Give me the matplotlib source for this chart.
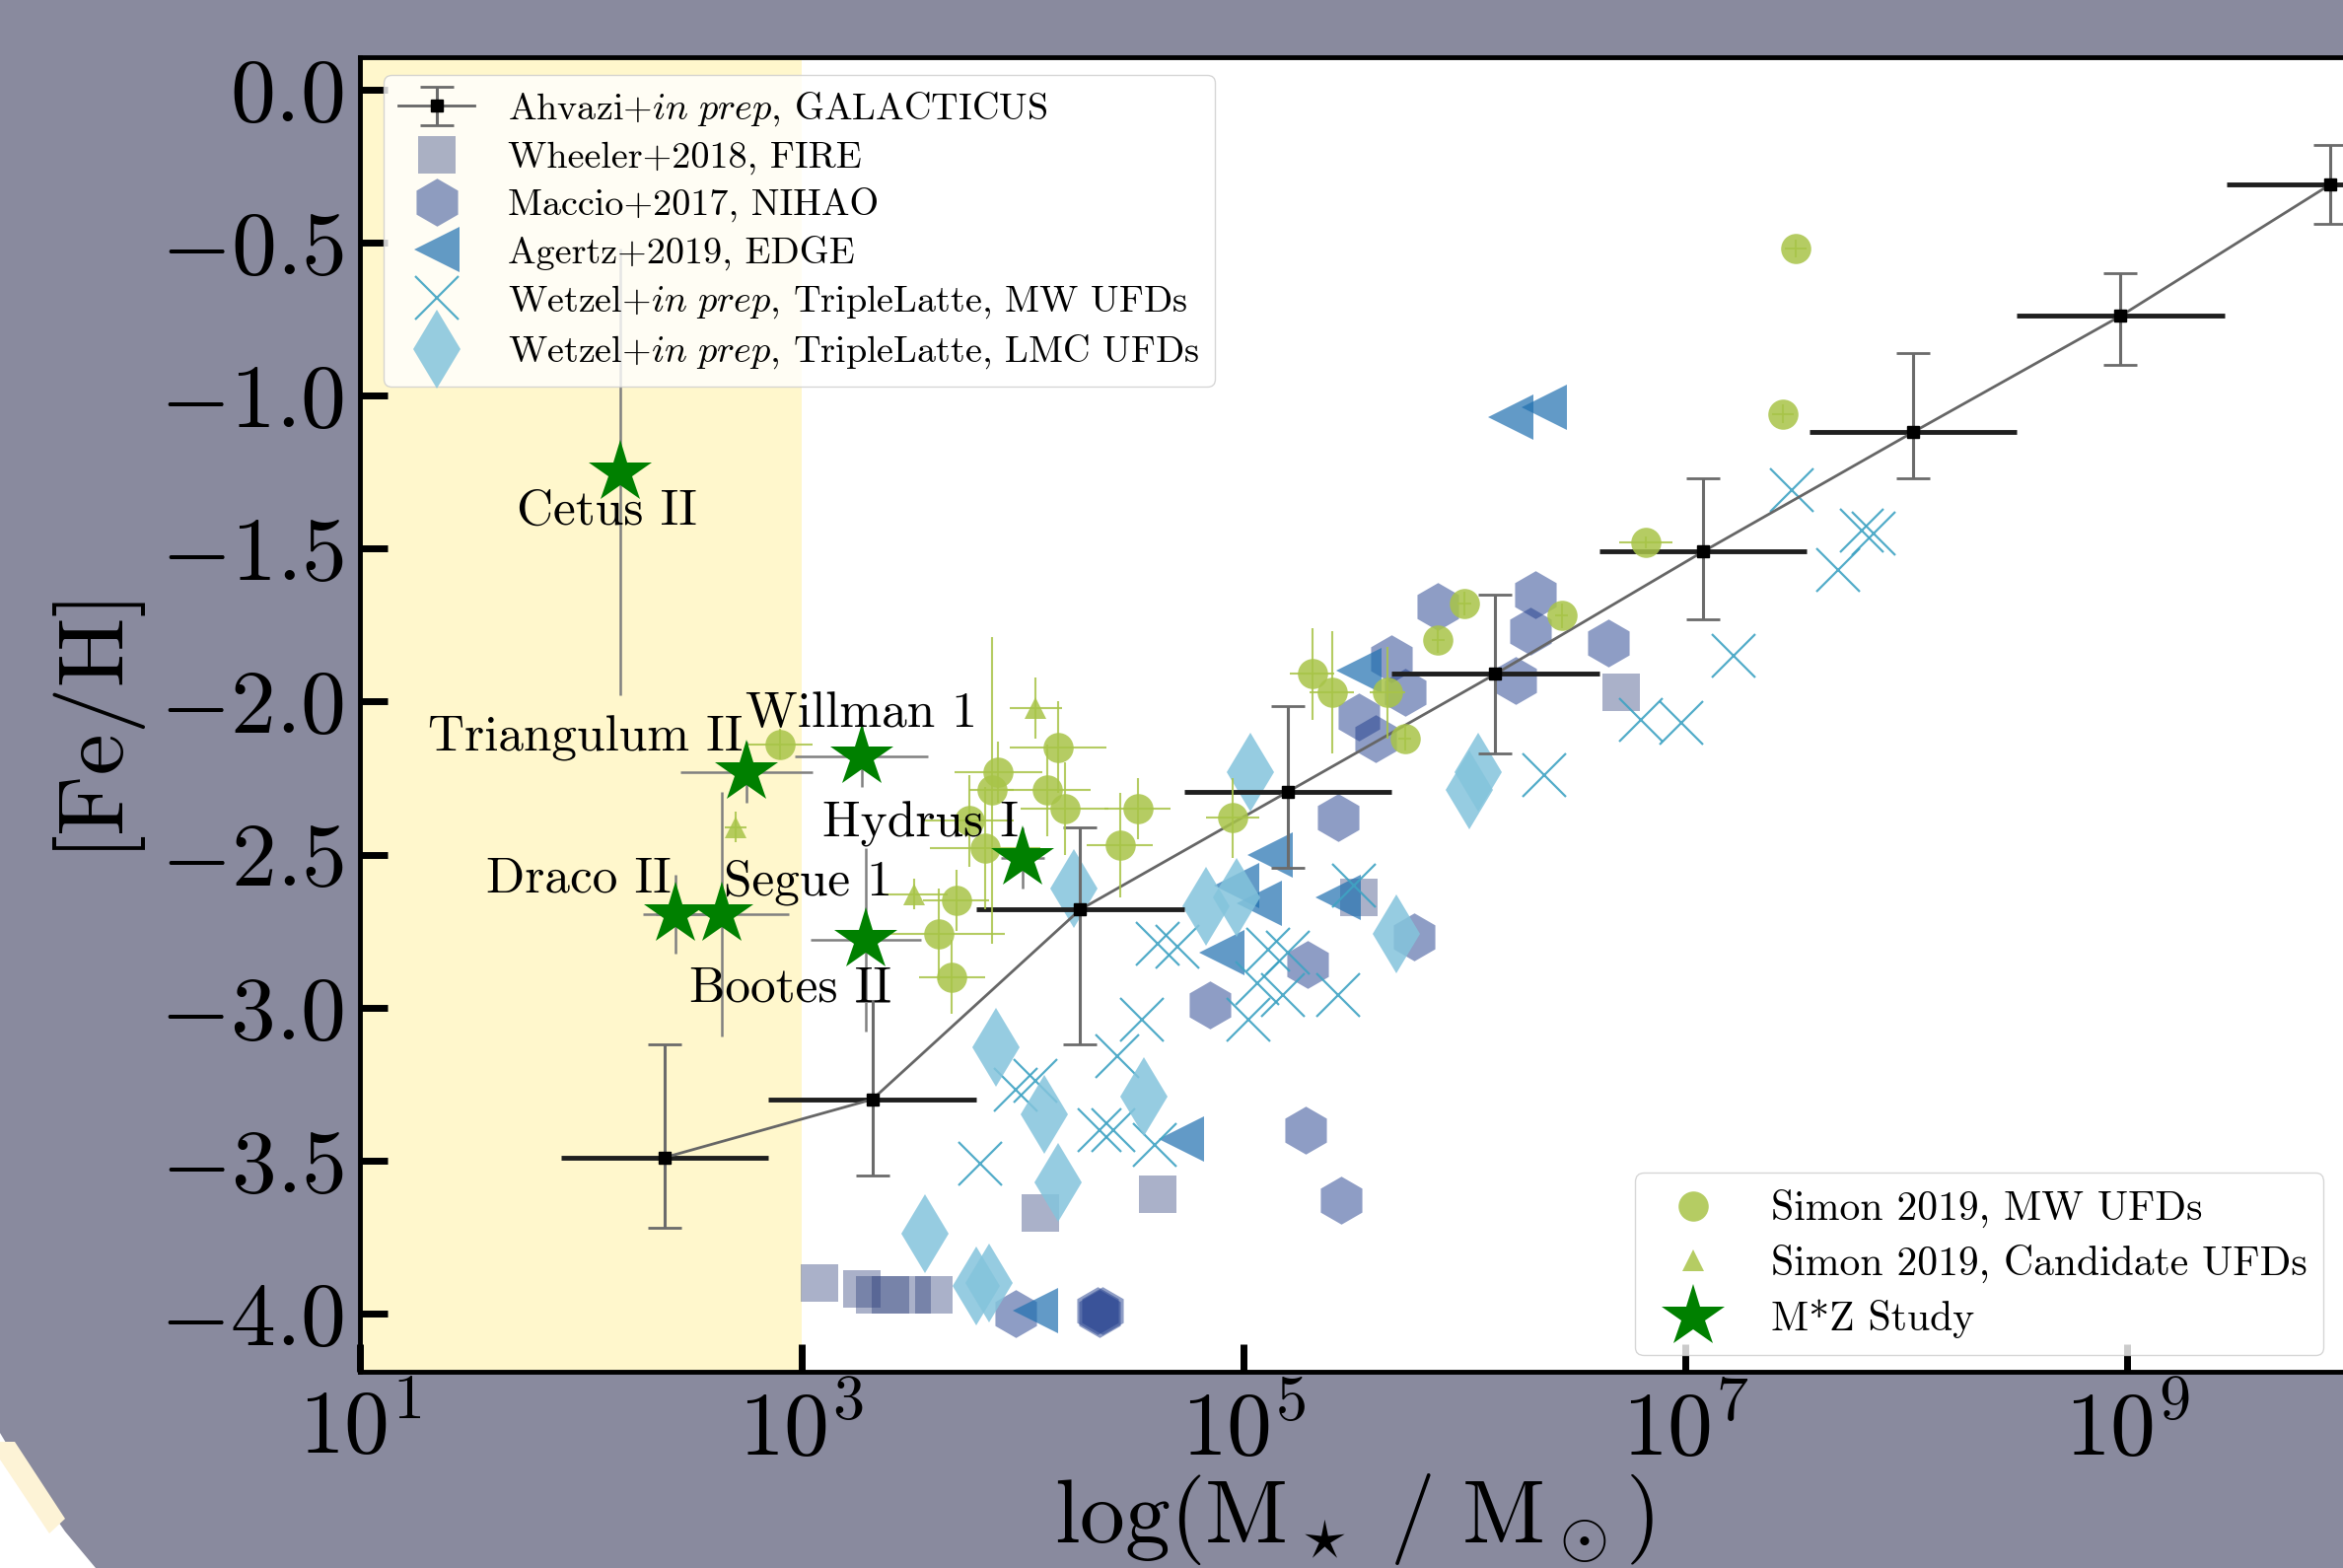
import numpy as np
import matplotlib.pyplot as plt
from matplotlib.patches import Polygon
from matplotlib.ticker import NullLocator

plt.rcParams['font.family'] = 'serif'
plt.rcParams['font.serif'] = ['cmr10']
plt.rcParams['mathtext.fontset'] = 'cm'
plt.rcParams['axes.formatter.use_mathtext'] = True

# GALACTICUS model: log10 stellar mass, [Fe/H], errors in dex
gal_logm = [2.38, 3.32, 4.26, 5.20, 6.14, 7.08, 8.03, 8.97, 9.92]
gal_feh = [-3.49, -3.30, -2.68, -2.295, -1.91, -1.51, -1.12, -0.74, -0.31]
gal_xerr = [0.47, 0.47, 0.47, 0.47, 0.47, 0.47, 0.47, 0.47, 0.47]
gal_err_lo = [0.23, 0.25, 0.44, 0.25, 0.26, 0.22, 0.15, 0.16, 0.13]
gal_err_hi = [0.37, 0.32, 0.27, 0.28, 0.26, 0.24, 0.26, 0.14, 0.13]

# Wheeler+2018, FIRE
fire_logm = [3.08, 3.27, 3.33, 3.40, 3.50, 3.60, 4.08, 4.61, 5.52, 6.71]
fire_feh = [-3.90, -3.92, -3.94, -3.94, -3.94, -3.94, -3.67, -3.61, -2.64, -1.97]

# Maccio+2017, NIHAO
nihao_logm = [6.32, 6.30, 5.88, 5.67, 5.73, 5.52, 5.60, 6.23, 6.65, 5.43,
              5.77, 5.29, 4.85, 5.28, 5.44, 3.97, 4.34, 4.35, 4.36]
nihao_feh = [-1.65, -1.77, -1.69, -1.86, -1.97, -2.05, -2.12, -1.93, -1.81, -2.38,
             -2.77, -2.86, -2.99, -3.40, -3.63, -4.00, -3.99, -4.00, -3.99]

# Agertz+2019, EDGE
edge_logm = [6.21, 6.36, 5.12, 4.97, 5.07, 5.43, 4.90, 4.72, 4.06, 5.52]
edge_feh = [-1.07, -1.04, -2.50, -2.60, -2.66, -2.64, -2.82, -3.43, -3.99, -1.90]

# Wetzel+in prep, TripleLatte, MW UFDs
lat_mw_logm = [7.48, 7.69, 7.80, 7.85, 7.22, 6.80, 6.98, 6.36, 5.50, 4.61,
               4.70, 5.11, 5.20, 5.06, 5.18, 5.43, 5.02, 4.54, 4.43, 3.97,
               4.06, 4.35, 4.41, 4.60, 3.81]
lat_mw_feh = [-1.31, -1.57, -1.44, -1.45, -1.85, -2.06, -2.07, -2.24, -2.60, -2.79,
              -2.80, -2.81, -2.82, -2.92, -2.96, -2.96, -3.04, -3.04, -3.16, -3.27,
              -3.24, -3.40, -3.40, -3.45, -3.51]

# Wetzel+in prep, TripleLatte, LMC UFDs
lat_lmc_logm = [5.03, 6.06, 6.02, 4.23, 4.83, 4.97, 5.69, 3.88, 4.10, 4.55,
                4.16, 3.56, 3.79, 3.85]
lat_lmc_feh = [-2.23, -2.23, -2.29, -2.61, -2.67, -2.64, -2.76, -3.13, -3.35, -3.29,
               -3.57, -3.74, -3.91, -3.90]

# Simon 2019, MW UFDs (errors in dex)
sim_logm = [2.90, 3.86, 3.89, 4.16, 4.11, 4.19, 4.52, 4.44, 4.95, 3.76,
            3.83, 3.70, 3.62, 3.68, 5.31, 5.40, 5.65, 5.73, 5.88, 6.00,
            6.44, 6.82, 7.44, 7.50]
sim_feh = [-2.14, -2.29, -2.23, -2.15, -2.29, -2.35, -2.35, -2.47, -2.38, -2.39,
           -2.48, -2.65, -2.76, -2.90, -1.91, -1.97, -1.97, -2.12, -1.80, -1.68,
           -1.72, -1.48, -1.06, -0.52]
sim_xerr = [0.15, 0.10, 0.20, 0.22, 0.20, 0.20, 0.15, 0.15, 0.12, 0.20,
            0.25, 0.15, 0.30, 0.15, 0.10, 0.10, 0.08, 0.03, 0.03, 0.03,
            0.03, 0.12, 0.05, 0.05]
sim_yerr = [0.05, 0.50, 0.10, 0.15, 0.15, 0.15, 0.10, 0.17, 0.13, 0.15,
            0.20, 0.10, 0.15, 0.12, 0.15, 0.20, 0.15, 0.04, 0.04, 0.04,
            0.04, 0.02, 0.03, 0.03]

# Simon 2019, candidate UFDs
cand_logm = [4.06, 3.51, 2.70]
cand_feh = [-2.02, -2.63, -2.41]
cand_xerr = [0.12, 0.15, 0.05]
cand_yerr = [0.10, 0.05, 0.05]

# M*Z study
mz_names = ['Cetus II', 'Triangulum II', 'Willman 1', 'Hydrus I',
            'Draco II', 'Segue 1', 'Bootes II']
mz_logm = [2.18, 2.75, 3.27, 4.00, 2.43, 2.64, 3.29]
mz_feh = [-1.25, -2.23, -2.18, -2.51, -2.695, -2.695, -2.78]
mz_xerr = [0.0, 0.30, 0.30, 0.10, 0.15, 0.30, 0.25]
mz_yerr = [0.73, 0.10, 0.10, 0.10, 0.13, 0.40, 0.30]
label_logm = [2.12, 2.02, 3.27, 3.54, 1.99, 3.03, 2.95]
label_feh = [-1.38, -2.12, -2.04, -2.40, -2.58, -2.59, -2.94]


def lin_err(logm, dex):
    logm = np.asarray(logm, float)
    dex = np.asarray(dex, float)
    m = 10 ** logm
    return m, np.vstack([m - 10 ** (logm - dex), 10 ** (logm + dex) - m])


fig = plt.figure(figsize=(23.76, 15.9), dpi=100, facecolor='#898a9e')
ax = fig.add_axes([0.1536, 0.1252, 0.8486, 0.8386])
ax.set_xscale('log')
ax.axvspan(1e1, 1e3, color='gold', alpha=0.2, lw=0, zorder=0)

# simulations
h_fire, = ax.plot(10 ** np.array(fire_logm), fire_feh, ls='none', marker='s', ms=28,
                  color='#2c3e7a', alpha=0.4, mew=0)
h_nihao, = ax.plot(10 ** np.array(nihao_logm), nihao_feh, ls='none', marker='h', ms=35,
                   color='#1f3c8c', alpha=0.5, mew=0)
h_edge, = ax.plot(10 ** np.array(edge_logm), edge_feh, ls='none', marker='<', ms=33,
                  color='#2070b0', alpha=0.7, mew=0)
h_lmw, = ax.plot(10 ** np.array(lat_mw_logm), lat_mw_feh, ls='none', marker='x', ms=32,
                 mew=1.6, color='#3fa3c3', alpha=0.9)
h_llmc, = ax.plot(10 ** np.array(lat_lmc_logm), lat_lmc_feh, ls='none', marker='d', ms=41,
                  color='#84c4dc', alpha=0.85, mew=0)

# GALACTICUS
m, gx = lin_err(gal_logm, gal_xerr)
ax.errorbar(m, gal_feh, xerr=gx, fmt='none', ecolor='0.12', elinewidth=3.5, zorder=3)
h_gal = ax.errorbar(m, gal_feh, yerr=[gal_err_lo, gal_err_hi], fmt='s-', color='0.4',
                    mfc='k', mec='k', ms=9, lw=2, ecolor='0.42', elinewidth=2.2,
                    capsize=12, capthick=2, zorder=3)

# observations
simon_col = '#a8c448'
m, sx = lin_err(sim_logm, sim_xerr)
h_sim = ax.errorbar(m, sim_feh, xerr=sx, yerr=sim_yerr, fmt='o', ms=22, color=simon_col,
                    mew=0, alpha=0.85, elinewidth=1.5, capsize=7, capthick=1.5, zorder=4)
m, cx = lin_err(cand_logm, cand_xerr)
h_cand = ax.errorbar(m, cand_feh, xerr=cx, yerr=cand_yerr, fmt='^', ms=16, color=simon_col,
                     mew=0, alpha=0.85, elinewidth=1.5, capsize=7, capthick=1.5, zorder=4)
m, zx = lin_err(mz_logm, mz_xerr)
h_mz = ax.errorbar(m, mz_feh, xerr=zx, yerr=mz_yerr, fmt='*', ms=48, color='green',
                   mew=0, ecolor='0.5', elinewidth=1.8, capsize=9, capthick=1.8, zorder=5)

for name, lx, ly in zip(mz_names, label_logm, label_feh):
    ax.text(10 ** lx, ly, name, ha='center', va='center', fontsize=37, zorder=6)

ax.set_xlim(1e1, 1e10)
ax.set_ylim(-4.19, 0.107)
ax.set_xticks([1e1, 1e3, 1e5, 1e7, 1e9])
ax.xaxis.set_minor_locator(NullLocator())
ax.set_yticks(np.arange(-4.0, 0.01, 0.5))
ax.tick_params(which='major', direction='in', length=20, width=5, labelsize=66, pad=12)
for s in ax.spines.values():
    s.set_linewidth(3.5)

ax.set_xlabel(r'$\log(\mathrm{M}_\star\ /\ \mathrm{M}_\odot)$', fontsize=66, labelpad=-2)
ax.set_ylabel('[Fe/H]', fontsize=68, labelpad=18)

leg1 = ax.legend(handles=[h_gal, h_fire, h_nihao, h_edge, h_lmw, h_llmc],
                 labels=[r'Ahvazi+$\mathit{in\ prep}$, GALACTICUS',
                         'Wheeler+2018, FIRE', 'Maccio+2017, NIHAO', 'Agertz+2019, EDGE',
                         r'Wetzel+$\mathit{in\ prep}$, TripleLatte, MW UFDs',
                         r'Wetzel+$\mathit{in\ prep}$, TripleLatte, LMC UFDs'],
                 loc='upper left', bbox_to_anchor=(0.012, 0.986), borderaxespad=0,
                 fontsize=27.5, labelspacing=0.34, handlelength=2.0, handletextpad=0.9,
                 borderpad=0.4, framealpha=0.8)
ax.add_artist(leg1)
ax.legend(handles=[h_sim[0], h_cand[0], h_mz[0]],
          labels=['Simon 2019, MW UFDs', 'Simon 2019, Candidate UFDs', 'M*Z Study'],
          loc='lower right', bbox_to_anchor=(0.9876, 0.0127), borderaxespad=0,
          fontsize=30, labelspacing=0.40, handlelength=2.0, handletextpad=0.9,
          borderpad=0.4, framealpha=0.8)

# corner of the slide behind the chart
W, H = 2376.0, 1590.0
corner = [(0, 1453), (15, 1478), (31, 1500), (48, 1527), (66, 1553), (97, 1590), (0, 1590)]
fig.add_artist(Polygon([(x / W, 1 - y / H) for x, y in corner], closed=True,
                       transform=fig.transFigure, color='white', lw=0))
band = [(0, 1462), (15, 1462), (66, 1540), (50, 1555), (0, 1480)]
fig.add_artist(Polygon([(x / W, 1 - y / H) for x, y in band], closed=True,
                       transform=fig.transFigure, color='#fdf3d6', lw=0))

fig.savefig('out.png', dpi=100, facecolor=fig.get_facecolor())
